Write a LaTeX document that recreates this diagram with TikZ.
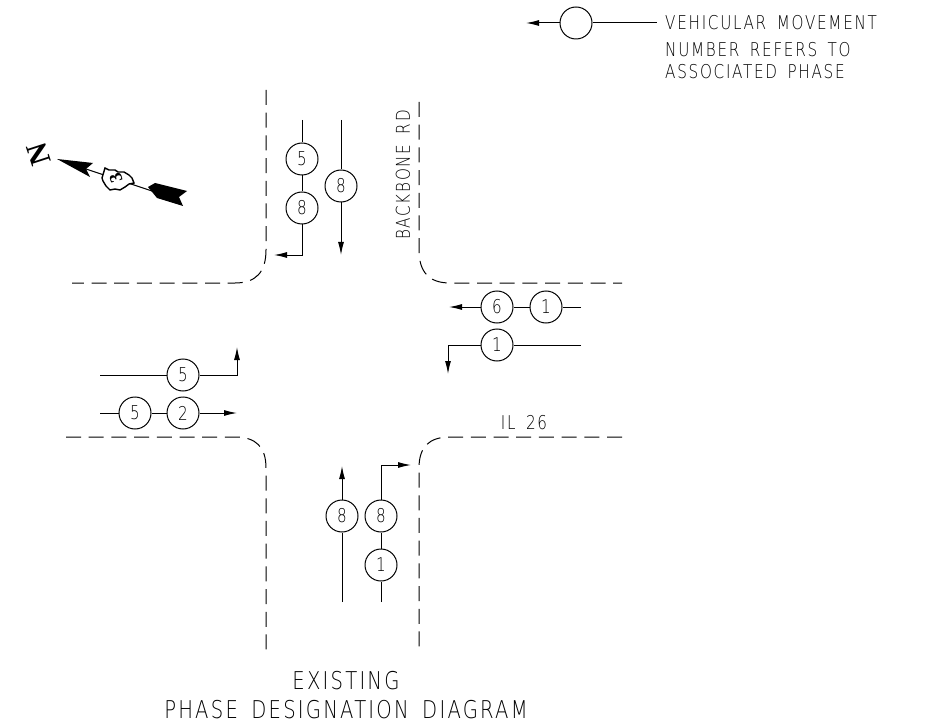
\documentclass[tikz,border=0pt]{standalone}
\usepackage{fontspec}
\setmainfont[UprightFont={* ExtraLight},FakeStretch=0.8,LetterSpace=9,WordSpace=1.6]{DejaVu Sans}
\newfontfamily\northfont{Liberation Serif}
\usetikzlibrary{arrows.meta,positioning,calc}
\tikzset{
    phase/.style={draw,circle,line width=1pt,fill=white,inner sep=0pt,minimum size=32pt,font=\fontsize{19}{19}\selectfont},
    lane/.style={line width=1pt},
    move/.style={lane,-{Latex[length=13pt,width=6pt]}},
    curb/.style={line width=1pt,dash pattern=on 15pt off 7.7pt},
    label/.style={font=\fontsize{19}{19}\selectfont,inner sep=0pt},
    title/.style={font=\fontsize{24.5}{24.5}\selectfont,inner sep=0pt}
}
\begin{document}
\begin{tikzpicture}[x=1pt,y=-1pt,node distance=49pt]
            \useasboundingbox (0,0) rectangle (928,727);
            % legend
            \node[phase] (key) at (576,23) {};
            \coordinate (keyl) at (526,23);
            \coordinate (keyr) at (657,23);
            \draw[move] (key) -- (keyl);
            \draw[lane] (key) -- (keyr);
            \node[label,anchor=west] (keyt) at (665,23) {VEHICULAR MOVEMENT};
            \node[label,anchor=west] (keyn) at (665,50) {NUMBER REFERS TO};
            \node[label,anchor=west] (keya) at (665,72) {ASSOCIATED PHASE};
            % curbs
            \coordinate (nwa) at (266,90);
            \coordinate (nwb) at (72,283);
            \coordinate (nea) at (419,102);
            \coordinate (neb) at (622,283);
            \coordinate (swa) at (66,437);
            \coordinate (swb) at (266,650);
            \coordinate (sea) at (622,437);
            \coordinate (seb) at (419,650);
            \draw[curb] (nwa) -- (266,250) .. controls (266,272) and (256,283) .. (235,283) -- (nwb);
            \draw[curb] (nea) -- (419,250) .. controls (419,272) and (429,283) .. (450,283) -- (neb);
            \draw[curb] (swa) -- (235,437) .. controls (256,437) and (266,447) .. (266,468) -- (swb);
            \draw[curb] (sea) -- (450,437) .. controls (429,437) and (419,447) .. (419,468) -- (seb);
            % north approach
            \node[phase] (n5) at (302,159) {5};
            \node[phase,below of=n5] (n8) {8};
            \node[phase] (m8) at (341,186) {8};
            \coordinate (n0) at (302,120);
            \coordinate (n1) at (274,255);
            \coordinate (m0) at (341,120);
            \coordinate (m1) at (341,255);
            \draw[lane] (n0) -- (n5);
            \draw[lane] (n5) -- (n8);
            \draw[move] (n8) |- (n1);
            \draw[lane] (m0) -- (m8);
            \draw[move] (m8) -- (m1);
            % east approach
            \node[phase] (e1) at (546,307) {1};
            \node[phase] (e6) at (497,307) {6};
            \node[phase] (f1) at (497,345) {1};
            \coordinate (e0) at (581,307);
            \coordinate (e2) at (449,307);
            \coordinate (f0) at (581,345);
            \coordinate (f2) at (448,374);
            \draw[lane] (e0) -- (e1);
            \draw[lane] (e1) -- (e6);
            \draw[move] (e6) -- (e2);
            \draw[lane] (f0) -- (f1);
            \draw[move] (f1) -| (f2);
            % west approach
            \node[phase] (w5) at (183,375) {5};
            \node[phase] (x5) at (135,413) {5};
            \node[phase] (x2) at (183,413) {2};
            \coordinate (w0) at (100,375);
            \coordinate (w1) at (237,347);
            \coordinate (x0) at (100,413);
            \coordinate (x1) at (237,413);
            \draw[lane] (w0) -- (w5);
            \draw[move] (w5) -| (w1);
            \draw[lane] (x0) -- (x5);
            \draw[lane] (x5) -- (x2);
            \draw[move] (x2) -- (x1);
            % south approach
            \node[phase] (s8) at (342,516) {8};
            \node[phase] (t8) at (381,516) {8};
            \node[phase,below of=t8] (t1) {1};
            \coordinate (s0) at (342,602);
            \coordinate (s1) at (342,466);
            \coordinate (t0) at (381,602);
            \coordinate (t2) at (411,465);
            \draw[lane] (s0) -- (s8);
            \draw[move] (s8) -- (s1);
            \draw[lane] (t0) -- (t1);
            \draw[lane] (t1) -- (t8);
            \draw[move] (t8) |- (t2);
            % street names
            \node[label,rotate=90] (road) at (403,175) {BACKBONE RD};
            \node[label] (route) at (524,423) {IL 26};
            % north arrow
            \coordinate (head) at (86,169);
            \coordinate (tail) at (155,192);
            \draw[line width=1pt] (head) -- (tail);
            \fill (57,159) -- (93,163) -- (86,169) -- (90,177) -- cycle;
            \fill (148,187) -- (155,183) -- (187,191) -- (179,197) -- (183,206) -- (157,198) -- cycle;
            \draw[line width=1.4pt,fill=white] (105,168) -- (109,170) -- (115,170) -- (118,172) -- (124,172) -- (129,175) -- (132,178) -- (134,183) -- (129,184) -- (125,187) -- (120,190) -- (115,189) -- (110,190) -- (106,186) -- (103,181) -- (102,178) -- cycle;
            \node[inner sep=0pt,rotate=108,font=\northfont\bfseries\fontsize{18}{18}\selectfont] (three) at (116,178) {3};
            \node[inner sep=0pt,rotate=108,font=\northfont\bfseries\fontsize{30}{30}\selectfont] (north) at (39,154) {N};
            % title
            \node[title] (ex) at (346,681) {EXISTING};
            \node[title,below of=ex,node distance=29pt] (pd) {PHASE DESIGNATION DIAGRAM};
\end{tikzpicture}
\end{document}
